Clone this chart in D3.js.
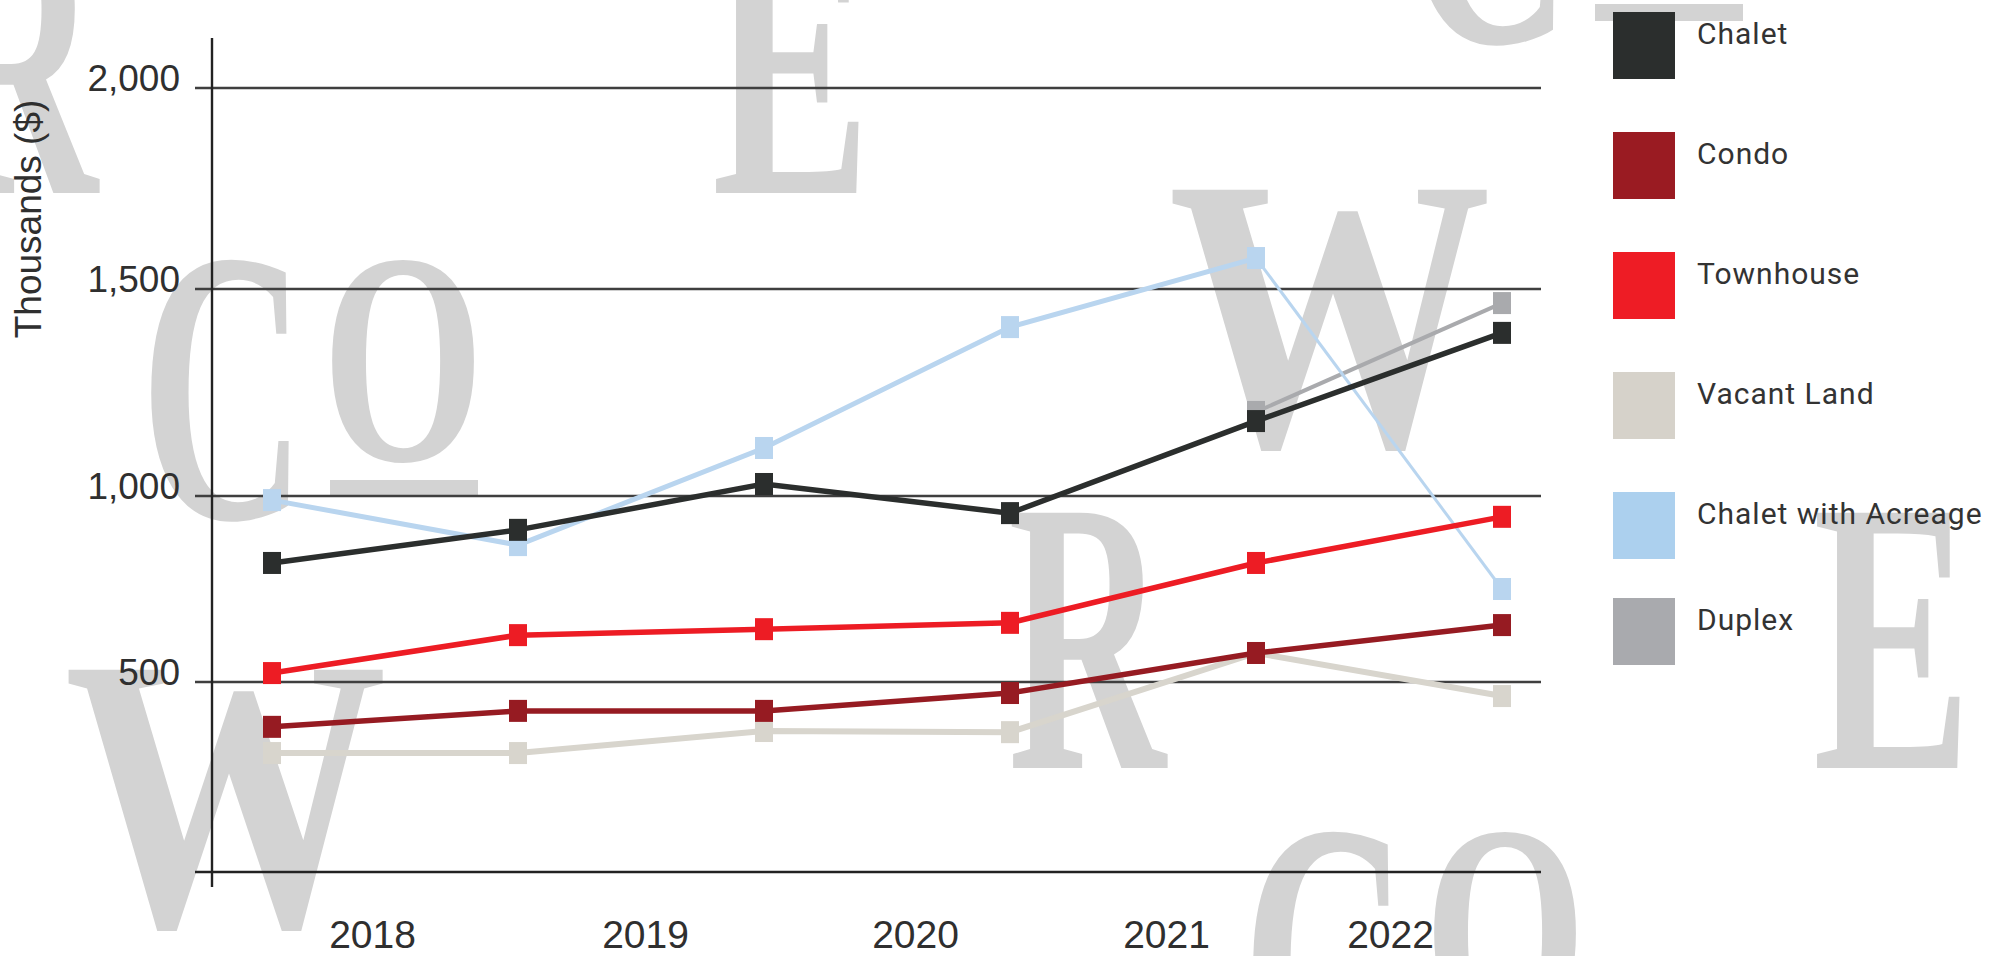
<!DOCTYPE html>
<html>
<head>
<meta charset="utf-8">
<script src="https://cdn.jsdelivr.net/npm/d3@7"></script>
<style>
  body { margin: 0; background: #fff; }
  svg { display: block; }
  .tick text { font-family: "Liberation Sans", Arial, sans-serif; fill: #2f2f2f; }
  .legend text { font-family: Roboto, "Liberation Sans", sans-serif; fill: #333; }
</style>
</head>
<body>
<div id="chart"></div>
<script>
// values, thousands of dollars
var steps = [0, 1, 2, 3, 4, 5];
var yearLabels = [2018, 2019, 2020, 2021, 2022];
var yTicks = [500, 1000, 1500, 2000];
var seriesNames = ["Chalet", "Condo", "Townhouse", "Vacant Land", "Chalet with Acreage", "Duplex"];
var chalet = [820, 909, 1029, 954, 1181, 1394];
var condo = [382, 424, 424, 471, 578, 653];
var townhouse = [524, 626, 642, 659, 820, 944];
var vacantLand = [313, 313, 371, 368, 578, 463];
var chaletAcreage = [989, 868, 1116, 1408, 1577, 750];
var duplex = [null, null, null, null, 1203, 1466];

var width = 2007, height = 956;
var swatchColors = ["#2b2e2d", "#9a1b22", "#ee1c25", "#d6d2ca", "#acd0ee", "#a9aaae"];
var lineColors = ["#2b2e2d", "#961b22", "#ed1c24", "#d8d5cd", "#b9d5ef", "#a9aaad"];

var svg = d3.select("#chart").append("svg")
  .attr("width", width)
  .attr("height", height);

// watermark letters in the background
var wm = svg.append("g")
  .attr("fill", "#d3d3d3")
  .style("font-family", "'Liberation Serif', 'DejaVu Serif', serif")
  .style("font-weight", "bold")
  .style("font-size", "390px");

function wmLetter(ch, x, y, sx) {
  wm.append("text")
    .attr("transform", "translate(" + x + "," + y + ") scale(" + sx + ",1)")
    .text(ch);
}
function wmCo(x, y) {
  // "C" with an underlined "o" next to it
  wmLetter("C", x - 10, y + 258, 0.59);
  wm.append("text")
    .attr("transform", "translate(" + (x + 172) + "," + (y + 200) + ") scale(0.69,1)")
    .style("font-size", "302px")
    .text("O");
  wm.append("rect")
    .attr("x", x + 180).attr("y", y + 220)
    .attr("width", 148).attr("height", 17);
}
wmLetter("R", -60, 193, 0.56);
wmLetter("E", 712, 193, 0.61);
wmLetter("W", 1168, 445, 0.83);
wmLetter("R", 1008, 768, 0.56);
wmLetter("E", 1813, 768, 0.61);
wmLetter("W", 64, 925, 0.83);
wmCo(150, 260);
wmCo(1415, -216);
wmCo(1252, 832);

// scales
var x = d3.scalePoint()
  .domain(steps)
  .range([272, 1502]);

// the year labels are not evenly spread in the original
var xLabel = d3.scaleLinear()
  .domain(yearLabels)
  .range([372, 645, 915, 1166, 1390]);

var y = d3.scaleLinear()
  .domain([0, 500, 1000, 1500, 2000])
  .range([872, 682, 496, 289, 88]);

// horizontal grid lines with ticks sticking out left of the axis
svg.append("g")
  .selectAll("line")
  .data([0].concat(yTicks))
  .join("line")
  .attr("x1", 195)
  .attr("x2", 1541)
  .attr("y1", function (d) { return y(d); })
  .attr("y2", function (d) { return y(d); })
  .attr("stroke", function (d) { return d == 0 ? "#222" : "#3f3f3f"; })
  .attr("stroke-width", 2.6);

// y axis labels, baseline sits on the grid line
var yAxis = svg.append("g")
  .attr("transform", "translate(212,2)")
  .call(d3.axisLeft(y).tickValues(yTicks).tickSize(0).tickPadding(32)
    .tickFormat(d3.format(",")));
yAxis.select(".domain").remove();
yAxis.selectAll("text")
  .attr("dy", 0)
  .style("font-size", "37px");

svg.append("line")
  .attr("x1", 212).attr("x2", 212)
  .attr("y1", 38).attr("y2", 887)
  .attr("stroke", "#222")
  .attr("stroke-width", 2.4);

svg.append("text")
  .attr("transform", "translate(41,219) rotate(-90)")
  .attr("text-anchor", "middle")
  .style("font-family", "'Liberation Sans', Arial, sans-serif")
  .style("font-size", "37px")
  .style("fill", "#2f2f2f")
  .text("Thousands ($)");

// year labels along the bottom
var xAxis = svg.append("g")
  .attr("transform", "translate(0,920)")
  .call(d3.axisBottom(xLabel).tickValues(yearLabels).tickSize(0).tickPadding(0)
    .tickFormat(d3.format("d")));
xAxis.select(".domain").remove();
xAxis.selectAll("text")
  .attr("dy", "0.71em")
  .style("font-size", "39px");

// series, drawn back to front; the acreage line gets thin on its last step
var series = [
  { name: seriesNames[3], values: vacantLand, color: lineColors[3], w: 6 },
  { name: seriesNames[5], values: duplex, color: lineColors[5], w: 4 },
  { name: seriesNames[4], values: chaletAcreage, color: lineColors[4], w: 5, lastW: 3 },
  { name: seriesNames[1], values: condo, color: lineColors[1], w: 5.5 },
  { name: seriesNames[2], values: townhouse, color: lineColors[2], w: 5.5 },
  { name: seriesNames[0], values: chalet, color: lineColors[0], w: 5.5 }
];

var line = d3.line()
  .defined(function (d) { return d.v != null; })
  .x(function (d) { return x(steps[d.i]); })
  .y(function (d) { return y(d.v); });

series.forEach(function (s) {
  var pts = s.values.map(function (v, i) { return { v: v, i: i }; });
  var g = svg.append("g").attr("class", "series");
  if (s.lastW) {
    g.append("path")
      .attr("fill", "none")
      .attr("stroke", s.color)
      .attr("stroke-width", s.w)
      .attr("d", line(pts.slice(0, pts.length - 1)));
    g.append("path")
      .attr("fill", "none")
      .attr("stroke", s.color)
      .attr("stroke-width", s.lastW)
      .attr("d", line(pts.slice(pts.length - 2)));
  } else {
    g.append("path")
      .attr("fill", "none")
      .attr("stroke", s.color)
      .attr("stroke-width", s.w)
      .attr("d", line(pts));
  }
  g.selectAll("rect")
    .data(pts.filter(function (d) { return d.v != null; }))
    .join("rect")
    .attr("x", function (d) { return x(steps[d.i]) - 9; })
    .attr("y", function (d) { return y(d.v) - 11; })
    .attr("width", 18)
    .attr("height", 22)
    .attr("fill", s.color);
});

// legend on the right, last row sits a little closer
var legendY = d3.scaleLinear()
  .domain([0, 4, 5])
  .range([12, 492, 598]);

var legend = svg.append("g").attr("class", "legend");
var item = legend.selectAll("g")
  .data(seriesNames)
  .join("g")
  .attr("transform", function (d, i) { return "translate(1613," + legendY(i) + ")"; });
item.append("rect")
  .attr("width", 62)
  .attr("height", 67)
  .attr("fill", function (d, i) { return swatchColors[i]; });
item.append("text")
  .attr("x", 84)
  .attr("y", 32)
  .style("font-size", "30px")
  .style("letter-spacing", "1px")
  .text(function (d) { return d; });
</script>
</body>
</html>
